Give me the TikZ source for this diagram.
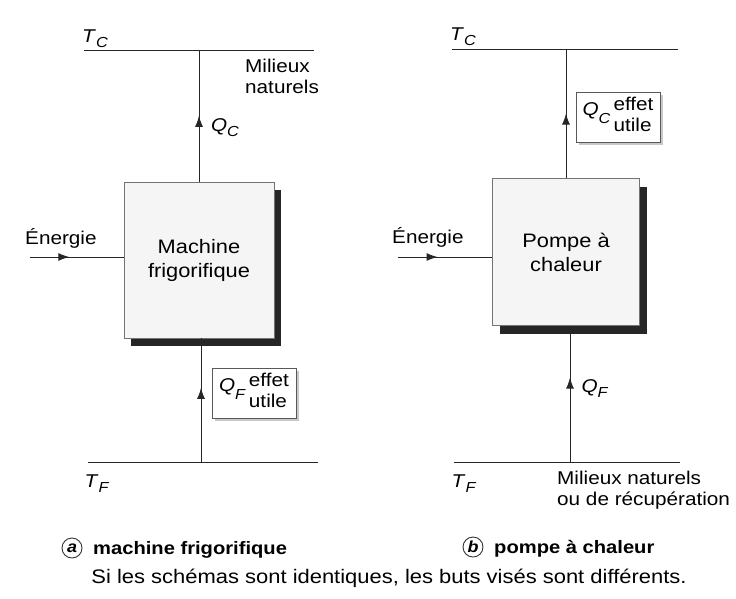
\documentclass[tikz,border=0pt]{standalone}
\usepackage{fontspec}
\setmainfont{Liberation Sans}[FakeStretch=1.12]
\usetikzlibrary{arrows.meta,decorations.markings,shadows}
\begin{document}
\begin{tikzpicture}[x=1pt,y=-1pt,
  txt/.style={inner sep=0pt, font=\fontsize{18.5}{21}\selectfont},
  wire/.style={draw=black!85, line width=1pt},
  flowmark/.style={postaction={decorate}, decoration={markings,
      mark=at position #1 with {\arrow{Latex[length=11pt,width=8pt]}}}},
  machine/.style={draw=black!55, fill=black!4, line width=0.8pt,
      minimum width=150pt, minimum height=156pt, inner sep=0pt,
      align=center, font=\fontsize{19.5}{24}\selectfont,
      drop shadow={shadow xshift=7pt, shadow yshift=-8pt, fill=black!85, opacity=1}},
  tag/.style={draw=black!65, fill=white, line width=0.8pt, inner sep=0pt,
      minimum width=84pt, minimum height=50pt,
      font=\fontsize{18.5}{21}\selectfont,
      drop shadow={shadow xshift=3pt, shadow yshift=-3pt, fill=black!30, opacity=0.7}},
  badge/.style={circle, draw=black!80, line width=0.9pt, inner sep=0pt,
      minimum size=20pt, font=\fontsize{16}{16}\selectfont\bfseries\itshape},
  capt/.style={inner sep=0pt, anchor=base west, font=\fontsize{18}{22}\selectfont\bfseries}
]
\useasboundingbox[fill=white] (0,0) rectangle (736,598);

\newcommand{\symb}[2]{\textit{#1}\raisebox{-5pt}{\fontsize{14.5}{14.5}\selectfont\textit{#2}}}
\newcommand{\utile}[1]{\textit{Q}\raisebox{-8pt}{\fontsize{14.5}{14.5}\selectfont\textit{#1}}\,\raisebox{5pt}{\begin{tabular}[t]{@{}l@{}}effet\\utile\end{tabular}}}

% ---------- (a) machine frigorifique ----------
\coordinate (a-tcL) at (84,50);  \coordinate (a-tcR) at (314,50);
\coordinate (a-tfL) at (88,462); \coordinate (a-tfR) at (318,462);
\coordinate (a-up) at (199,50);  \coordinate (a-dn) at (201,462);
\coordinate (a-en) at (30,257);

\draw[wire] (a-tcL) -- (a-tcR);
\draw[wire] (a-tfL) -- (a-tfR);

\node[machine] (a-box) at (199,260) {Machine\\frigorifique};

\draw[wire, flowmark=0.5] (a-box.north) -- (a-up);
\draw[wire, flowmark=0.6] (a-dn) -- (a-dn |- a-box.south);
\draw[wire, flowmark=0.42] (a-en) -- (a-en -| a-box.west);

\node[txt] (a-tc) at (95,39) {\symb{T}{C}};
\node[txt] (a-tf) at (97,484) {\symb{T}{F}};
\node[txt] (a-qc) at (225,128) {\symb{Q}{C}};
\node[txt, anchor=base west, align=left] (a-mil) at (245,93) {Milieux\\naturels};
\node[txt, anchor=base west] (a-ene) at (25,244) {Énergie};
\node[tag] (a-qf) at (254,393) {\utile{F}};

\node[badge] (a-bd) at (72,548) {a};
\node[capt] (a-cap) at (93,554) {machine frigorifique};

% ---------- (b) pompe a chaleur ----------
\coordinate (b-tcL) at (452,49);  \coordinate (b-tcR) at (678,49);
\coordinate (b-tfL) at (454,462); \coordinate (b-tfR) at (680,462);
\coordinate (b-up) at (566,49);   \coordinate (b-dn) at (570,462);
\coordinate (b-en) at (398,257);

\draw[wire] (b-tcL) -- (b-tcR);
\draw[wire] (b-tfL) -- (b-tfR);

\node[machine, minimum width=147pt, minimum height=147pt] (b-box) at (566,252) {Pompe à\\chaleur};

\draw[wire, flowmark=0.5] (b-box.north) -- (b-up);
\draw[wire, flowmark=0.62] (b-dn) -- (b-dn |- b-box.south);
\draw[wire, flowmark=0.42] (b-en) -- (b-en -| b-box.west);

\node[txt] (b-tc) at (463,37) {\symb{T}{C}};
\node[txt] (b-tf) at (464,484) {\symb{T}{F}};
\node[txt] (b-qf) at (595,389) {\symb{Q}{F}};
\node[txt, anchor=base west, align=left] (b-mil) at (557,505) {Milieux naturels\\ou de récupération};
\node[txt, anchor=base west] (b-ene) at (392,243) {Énergie};
\node[tag] (b-qc) at (618,117) {\utile{C}};

\node[badge] (b-bd) at (473,547) {b};
\node[capt] (b-cap) at (494,553) {pompe à chaleur};

% ---------- common caption ----------
\node[txt, anchor=base, font=\fontsize{19.6}{24}\selectfont] (note) at (389,583) {Si les schémas sont identiques, les buts visés sont différents.};
\end{tikzpicture}
\end{document}
